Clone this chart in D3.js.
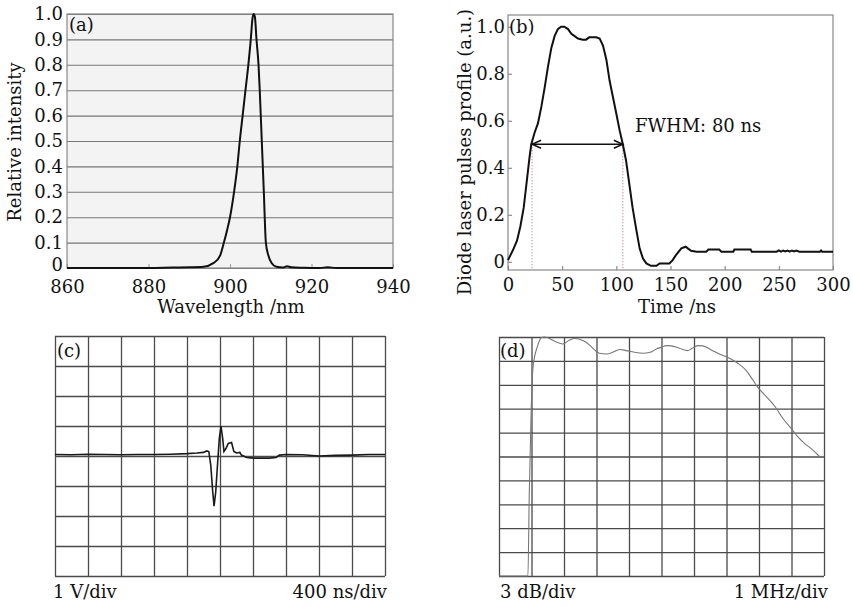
<!DOCTYPE html>
<html>
<head>
<meta charset="utf-8">
<script src="https://cdn.jsdelivr.net/npm/d3@7"></script>
<style>
body { margin: 0; background: #fff; }
text { font-family: "DejaVu Serif", serif; font-size: 18px; fill: #111; }
</style>
</head>
<body>
<svg id="fig" width="853" height="607"></svg>
<script>
//
// Data
//
// (a) emission spectrum
var specWl = [860, 870, 880, 886, 890, 893.5, 896, 897.6, 898.5, 899.3, 900, 901, 901.8, 902.4, 903.1, 903.8, 904.5, 905.1, 905.5, 905.8, 906.1, 906.5, 907, 907.3, 907.8, 908.3, 908.8, 909.4, 910.2, 911.4, 913, 914, 915, 918, 922, 924, 926, 940];
var specI  = [0, 0, 0, 0.002, 0.003, 0.005, 0.02, 0.05, 0.1, 0.15, 0.2, 0.3, 0.4, 0.5, 0.6, 0.7, 0.8, 0.9, 0.98, 1.0, 0.99, 0.9, 0.8, 0.7, 0.5, 0.3, 0.1, 0.05, 0.02, 0.005, 0.002, 0.007, 0.003, 0.001, 0, 0.003, 0, 0];
var aXTicks = [860, 880, 900, 920, 940];
var aYTicks = [0, 0.1, 0.2, 0.3, 0.4, 0.5, 0.6, 0.7, 0.8, 0.9, 1.0];
var aYLabels = ["0", "0.1", "0.2", "0.3", "0.4", "0.5", "0.6", "0.7", "0.8", "0.9", "1.0"];

// (b) pulse profile
var pulseT = [0, 4.6, 8.3, 11.4, 14.5, 17.5, 20, 21.5, 24.6, 27.7, 30.8, 33.8, 36.9, 40, 43, 46, 49, 52, 55.4, 58.5, 61.5, 64.6, 69, 72, 75, 78, 81.5, 84.6, 87.7, 90.8, 93.8, 96.9, 100, 103, 106, 109, 112, 115, 118.5, 121.5, 124.6, 127.7, 132, 137, 140, 149, 152, 155, 160, 164, 166, 169, 174, 183, 185, 195, 197, 208, 209, 224, 225, 248, 250, 252, 254, 256, 258, 260, 262, 264, 266, 269, 288, 289, 290, 300];
var pulseV = [0.007, 0.05, 0.09, 0.15, 0.23, 0.35, 0.45, 0.5, 0.55, 0.59, 0.66, 0.74, 0.83, 0.91, 0.96, 0.99, 1.0, 1.0, 0.99, 0.97, 0.96, 0.95, 0.945, 0.945, 0.955, 0.955, 0.955, 0.95, 0.92, 0.86, 0.77, 0.70, 0.63, 0.56, 0.5, 0.43, 0.33, 0.23, 0.135, 0.057, 0.014, -0.007, -0.017, -0.017, -0.007, -0.007, 0.007, 0.028, 0.057, 0.064, 0.057, 0.047, 0.043, 0.043, 0.052, 0.052, 0.043, 0.043, 0.052, 0.052, 0.043, 0.043, 0.048, 0.043, 0.048, 0.044, 0.048, 0.043, 0.048, 0.044, 0.048, 0.043, 0.043, 0.048, 0.043, 0.043];
var bXTicks = [0, 50, 100, 150, 200, 250, 300];
var bYTicks = [0, 0.2, 0.4, 0.6, 0.8, 1.0];
var bYLabels = ["0", "0.2", "0.4", "0.6", "0.8", "1.0"];
var fwhm = [22.2, 106];

// (c) oscilloscope trace, in divisions
var scopeX = [0, 0.5, 1, 1.5, 2, 2.5, 3, 3.5, 4, 4.3, 4.5, 4.6, 4.66, 4.72, 4.78, 4.82, 4.87, 4.93, 4.98, 5.03, 5.08, 5.12, 5.18, 5.25, 5.35, 5.42, 5.5, 5.6, 5.65, 5.81, 6.0, 6.5, 6.7, 6.8, 7.0, 7.5, 8, 8.5, 9, 9.5, 10];
var scopeY = [0.05, 0.04, 0.06, 0.05, 0.04, 0.05, 0.05, 0.06, 0.08, 0.1, 0.12, 0.17, 0.15, -0.3, -1.2, -1.67, -1.2, -0.2, 0.6, 1.0, 0.6, 0.15, 0.25, 0.42, 0.45, 0.15, 0.1, 0.12, 0.03, -0.05, -0.07, -0.07, -0.05, 0.03, 0.05, 0.04, 0.0, 0.02, 0.03, 0.05, 0.05];

// (d) frequency response, dB relative to top line
var respX  = [0, 0.89, 0.93, 0.99, 1.04, 1.09, 1.18, 1.3, 1.4, 1.55, 1.76, 1.96, 2.17, 2.32, 2.58, 2.78, 2.94, 3.09, 3.3, 3.5, 3.71, 3.91, 4.17, 4.42, 4.68, 4.84, 4.99, 5.14, 5.3, 5.55, 5.81, 5.91, 6.12, 6.27, 6.53, 6.78, 7.09, 7.35, 7.61, 7.81, 7.96, 8.27, 8.53, 8.73, 8.99, 9.19, 9.4, 9.66, 9.86];
var respDb = [-30, -30, -20, -9.2, -4.1, -2.6, -1.2, -0.1, 0, -0.18, -0.63, -0.87, -0.39, -0.18, -0.45, -0.99, -1.62, -2.04, -2.13, -1.92, -1.56, -1.71, -1.92, -2.04, -1.89, -1.5, -1.3, -1.08, -1.11, -1.41, -1.71, -1.5, -1.08, -1.11, -1.62, -2.13, -2.67, -3.3, -4.23, -5.4, -6.3, -7.68, -8.94, -10.2, -11.46, -12.51, -13.35, -14.19, -15.0];

var divs10 = d3.range(0, 11);
var divs8 = d3.range(-4, 5);
var dbLines = d3.range(-30, 1, 3);

var svg = d3.select("#fig");

function zip(xs, ys) {
	return xs.map(function(x, i) { return [x, ys[i]]; });
}

//
// (a) spectrum
//
var xA = d3.scaleLinear().domain([860, 940]).range([67, 393]);
var yA = d3.scaleLinear().domain([0, 1]).range([268, 14]);
var gA = svg.append("g");

gA.append("rect").attr("x", 67).attr("y", 14).attr("width", 326).attr("height", 254).attr("fill", "#f3f3f3");

gA.append("g").attr("transform", "translate(67,0)")
	.call(d3.axisLeft(yA).tickValues(aYTicks).tickSize(-326).tickFormat(""))
	.call(function(g) { g.select(".domain").remove(); })
	.selectAll("line").attr("stroke", "#777").attr("stroke-width", 1.1);

gA.append("g").attr("transform", "translate(67,0)")
	.call(d3.axisLeft(yA).tickValues(aYTicks).tickSize(0).tickPadding(4)
		.tickFormat(function(d, i) { return aYLabels[i]; }))
	.call(function(g) { g.select(".domain").remove(); })
	.selectAll("text").style("font-size", "18px").attr("fill", "#111")
	.attr("dy", function(d) { return d === 0 ? "0.15em" : "0.32em"; });

gA.append("g").attr("transform", "translate(0,268)")
	.call(d3.axisBottom(xA).tickValues(aXTicks).tickSizeInner(-4).tickSizeOuter(0).tickPadding(12))
	.call(function(g) { g.select(".domain").remove(); })
	.call(function(g) { g.selectAll("line").attr("stroke", "#999"); })
	.selectAll("text").style("font-size", "18px").attr("fill", "#111");

gA.append("rect").attr("x", 67).attr("y", 14).attr("width", 326).attr("height", 254)
	.attr("fill", "none").attr("stroke", "#888").attr("stroke-width", 1.2);

gA.append("path").datum(zip(specWl, specI))
	.attr("fill", "none").attr("stroke", "#111").attr("stroke-width", 2)
	.attr("d", d3.line().x(function(d) { return xA(d[0]); }).y(function(d) { return yA(d[1]); }).curve(d3.curveMonotoneX));

gA.append("text").attr("x", 69).attr("y", 31).text("(a)");
gA.append("text").attr("x", 231).attr("y", 313).attr("text-anchor", "middle").text("Wavelength /nm");
gA.append("text").attr("transform", "translate(21,142) rotate(-90)").attr("text-anchor", "middle").text("Relative intensity");

//
// (b) pulse profile
//
var xB = d3.scaleLinear().domain([0, 300]).range([508, 833]);
var yB = d3.scaleLinear().domain([-0.035, 1.05]).range([270, 15]);
var gB = svg.append("g");

gB.append("g").attr("transform", "translate(508,0)")
	.call(d3.axisLeft(yB).tickValues(bYTicks).tickSizeInner(-4).tickSizeOuter(0).tickPadding(3)
		.tickFormat(function(d, i) { return bYLabels[i]; }))
	.call(function(g) { g.select(".domain").remove(); })
	.call(function(g) { g.selectAll("line").attr("stroke", "#777"); })
	.selectAll("text").style("font-size", "18px").attr("fill", "#111");

gB.append("g").attr("transform", "translate(0,270)")
	.call(d3.axisBottom(xB).tickValues(bXTicks).tickSizeInner(-4).tickSizeOuter(0).tickPadding(8))
	.call(function(g) { g.select(".domain").remove(); })
	.call(function(g) { g.selectAll("line").attr("stroke", "#777"); })
	.selectAll("text").style("font-size", "18px").attr("fill", "#111");

gB.append("rect").attr("x", 508).attr("y", 15).attr("width", 325).attr("height", 255)
	.attr("fill", "none").attr("stroke", "#888").attr("stroke-width", 1.2);

gB.selectAll("line.fwhm").data(fwhm).enter().append("line")
	.attr("class", "fwhm")
	.attr("x1", function(d) { return xB(d); }).attr("x2", function(d) { return xB(d); })
	.attr("y1", yB(0.5)).attr("y2", 270)
	.attr("stroke", "#b06a6a").attr("stroke-width", 1).attr("stroke-dasharray", "1,2");

gB.append("path").datum(zip(pulseT, pulseV))
	.attr("fill", "none").attr("stroke", "#111").attr("stroke-width", 2)
	.attr("d", d3.line().x(function(d) { return xB(d[0]); }).y(function(d) { return yB(d[1]); }));

var defs = svg.append("defs");
defs.append("marker").attr("id", "arr").attr("viewBox", "-10 -6 12 12")
	.attr("refX", 0).attr("refY", 0).attr("markerWidth", 12).attr("markerHeight", 12)
	.attr("markerUnits", "userSpaceOnUse").attr("orient", "auto-start-reverse")
	.append("path").attr("d", "M-9,-4 L0,0 L-9,4").attr("fill", "none").attr("stroke", "#111").attr("stroke-width", 1.4);

gB.append("line")
	.attr("x1", xB(fwhm[0])).attr("x2", xB(fwhm[1]))
	.attr("y1", yB(0.5)).attr("y2", yB(0.5))
	.attr("stroke", "#111").attr("stroke-width", 1.4)
	.attr("marker-start", "url(#arr)").attr("marker-end", "url(#arr)");

gB.append("text").attr("x", 635).attr("y", 132).text("FWHM: 80 ns");
gB.append("text").attr("x", 509).attr("y", 33).text("(b)");
gB.append("text").attr("x", 677).attr("y", 313).attr("text-anchor", "middle").text("Time /ns");
gB.append("text").attr("transform", "translate(471,152) rotate(-90)").attr("text-anchor", "middle").text("Diode laser pulses profile (a.u.)");

//
// (c) and (d) screen grids
//
function screenGrid(g, x, y, xs, ys, color) {
	var x0 = x.range()[0], x1 = x.range()[1];
	var y0 = y.range()[0], y1 = y.range()[1];
	g.append("g").attr("transform", "translate(0," + y0 + ")")
		.call(d3.axisBottom(x).tickValues(xs).tickSize(-(y0 - y1)).tickFormat(""))
		.call(function(s) { s.select(".domain").remove(); })
		.selectAll("line").attr("stroke", color).attr("stroke-width", 1.3);
	g.append("g").attr("transform", "translate(" + x0 + ",0)")
		.call(d3.axisLeft(y).tickValues(ys).tickSize(-(x1 - x0)).tickFormat(""))
		.call(function(s) { s.select(".domain").remove(); })
		.selectAll("line").attr("stroke", color).attr("stroke-width", 1.3);
}

var xC = d3.scaleLinear().domain([0, 10]).range([55, 385]);
var yC = d3.scaleLinear().domain([-4, 4]).range([576, 336]);
var gC = svg.append("g");
screenGrid(gC, xC, yC, divs10, divs8, "#4a4a4a");
gC.append("path").datum(zip(scopeX, scopeY))
	.attr("fill", "none").attr("stroke", "#1a1a1a").attr("stroke-width", 1.6)
	.attr("d", d3.line().x(function(d) { return xC(d[0]); }).y(function(d) { return yC(d[1]); }));
gC.append("text").attr("x", 57).attr("y", 357).text("(c)");
gC.append("text").attr("x", 53).attr("y", 598).text("1 V/div");
gC.append("text").attr("x", 387).attr("y", 598).attr("text-anchor", "end").text("400 ns/div");

var xD = d3.scaleLinear().domain([0, 10]).range([499, 824]);
var yD = d3.scaleLinear().domain([-30, 0]).range([576, 337]);
var gD = svg.append("g");
screenGrid(gD, xD, yD, divs10, dbLines, "#4a4a4a");
gD.append("path").datum(zip(respX, respDb))
	.attr("fill", "none").attr("stroke", "#777").attr("stroke-width", 1.1)
	.attr("d", d3.line().x(function(d) { return xD(d[0]); }).y(function(d) { return yD(d[1]); }).curve(d3.curveMonotoneX));
gD.append("text").attr("x", 500).attr("y", 357).text("(d)");
gD.append("text").attr("x", 500).attr("y", 598).text("3 dB/div");
gD.append("text").attr("x", 828).attr("y", 598).attr("text-anchor", "end").text("1 MHz/div");
</script>
</body>
</html>
